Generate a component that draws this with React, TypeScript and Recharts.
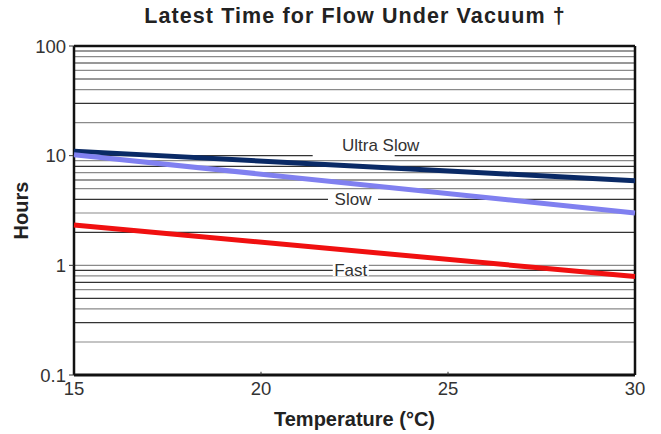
import React from "react";
import {
  LineChart,
  Line,
  XAxis,
  YAxis,
  ReferenceLine,
  ReferenceDot,
} from "recharts";

// ---- Data ----
const temperatures = [15, 30];
const ultraSlowHours = [11.0, 5.9];
const slowHours = [10.2, 3.0];
const fastHours = [2.33, 0.79];

const yTicks = [0.1, 1, 10, 100];
const xTicks = [15, 20, 25, 30];
const gridValues = [
  0.2, 0.3, 0.4, 0.5, 0.6, 0.7, 0.8, 0.9, 1,
  2, 3, 4, 5, 6, 7, 8, 9, 10,
  20, 30, 40, 50, 60, 70, 80, 90,
];
const gridColors = ["#8a8a8a", "#333333"];

const seriesLabels = [
  { name: "Ultra Slow", x: 23.2, y: 10 },
  { name: "Slow", x: 22.46, y: 4 },
  { name: "Fast", x: 22.4, y: 0.9 },
];

const data = temperatures.map((t, i) => ({
  t,
  ultra: ultraSlowHours[i],
  slow: slowHours[i],
  fast: fastHours[i],
}));

const FONT = "'Liberation Sans', Arial, Helvetica, sans-serif";

const fmtY = (v: number) => (v < 1 ? String(v) : String(Math.round(v)));

const LabelShape = (name: string) => (props: any) => {
  const { cx, cy } = props;
  if (name === "Ultra Slow") {
    return (
      <g>
        <rect x={cx - 68} y={cy - 4} width={82} height={8} fill="#fff" />
        <text
          x={cx}
          y={cy - 5}
          textAnchor="middle"
          fontFamily={FONT}
          fontSize={17}
          fill="#333"
        >
          {name}
        </text>
      </g>
    );
  }
  const w = name === "Slow" ? 50 : 36;
  return (
    <g>
      <rect x={cx - w / 2} y={cy - 8} width={w} height={14} fill="#fff" />
      <text
        x={cx}
        y={cy + 6}
        textAnchor="middle"
        fontFamily={FONT}
        fontSize={17}
        fill="#333"
      >
        {name}
      </text>
    </g>
  );
};

export default function App() {
  return (
    <div
      style={{
        position: "absolute",
        left: 0,
        top: 0,
        width: 661,
        height: 434,
        background: "#fff",
      }}
    >
      <div
        style={{
          position: "absolute",
          left: 0,
          top: 4,
          width: 710,
          textAlign: "center",
          fontFamily: FONT,
          fontWeight: "bold",
          fontSize: 21.5,
          letterSpacing: 1.1,
          color: "#222",
        }}
      >
        Latest Time for Flow Under Vacuum †
      </div>
      <LineChart
        width={661}
        height={434}
        data={data}
        margin={{ top: 46, right: 26, left: 0, bottom: 0 }}
      >
        <XAxis
          dataKey="t"
          type="number"
          domain={[15, 30]}
          ticks={xTicks}
          height={59}
          axisLine={false}
          tickLine={false}
          tick={{ fontFamily: FONT, fontSize: 18.5, fill: "#333" }}
          tickMargin={1}
          label={{
            value: "Temperature (°C)",
            position: "insideBottom",
            offset: 8,
            style: {
              fontFamily: FONT,
              fontWeight: "bold",
              fontSize: 20,
              fill: "#222",
            },
          }}
        />
        <YAxis
          scale="log"
          type="number"
          domain={[0.1, 100]}
          ticks={yTicks}
          allowDataOverflow
          width={74}
          axisLine={false}
          tickLine={{ stroke: "#333" }}
          tickSize={5}
          tickMargin={3}
          tickFormatter={fmtY}
          tick={{ fontFamily: FONT, fontSize: 18.5, fill: "#333" }}
          label={{
            value: "Hours",
            angle: -90,
            position: "insideLeft",
            offset: 21,
            style: {
              fontFamily: FONT,
              fontWeight: "bold",
              fontSize: 20,
              fill: "#222",
              textAnchor: "middle",
            },
          }}
        />
        {gridValues.map((v, i) => (
          <ReferenceLine
            key={"g" + v}
            y={v}
            stroke={gridColors[i % 2]}
            strokeWidth={1.2}
            ifOverflow="hidden"
          />
        ))}
        {seriesLabels.map((l) => (
          <ReferenceDot
            key={l.name}
            x={l.x}
            y={l.y}
            r={0}
            shape={LabelShape(l.name)}
          />
        ))}
        {/* frame */}
        <ReferenceLine y={100} stroke="#111" strokeWidth={2.5} />
        <ReferenceLine y={0.1} stroke="#111" strokeWidth={3} />
        <ReferenceLine x={15} stroke="#111" strokeWidth={2.5} />
        <ReferenceLine x={30} stroke="#111" strokeWidth={2.5} />
        {[20, 25].map((x) => (
          <ReferenceLine
            key={"xt" + x}
            segment={[
              { x, y: 0.1 },
              { x, y: 0.107 },
            ]}
            stroke="#333"
            strokeWidth={1}
          />
        ))}
        <Line
          dataKey="ultra"
          stroke="#0a2a66"
          strokeWidth={5}
          dot={false}
          isAnimationActive={false}
        />
        <Line
          dataKey="slow"
          stroke="#8080f0"
          strokeWidth={5}
          dot={false}
          isAnimationActive={false}
        />
        <Line
          dataKey="fast"
          stroke="#f01010"
          strokeWidth={5}
          dot={false}
          isAnimationActive={false}
        />
      </LineChart>
    </div>
  );
}
